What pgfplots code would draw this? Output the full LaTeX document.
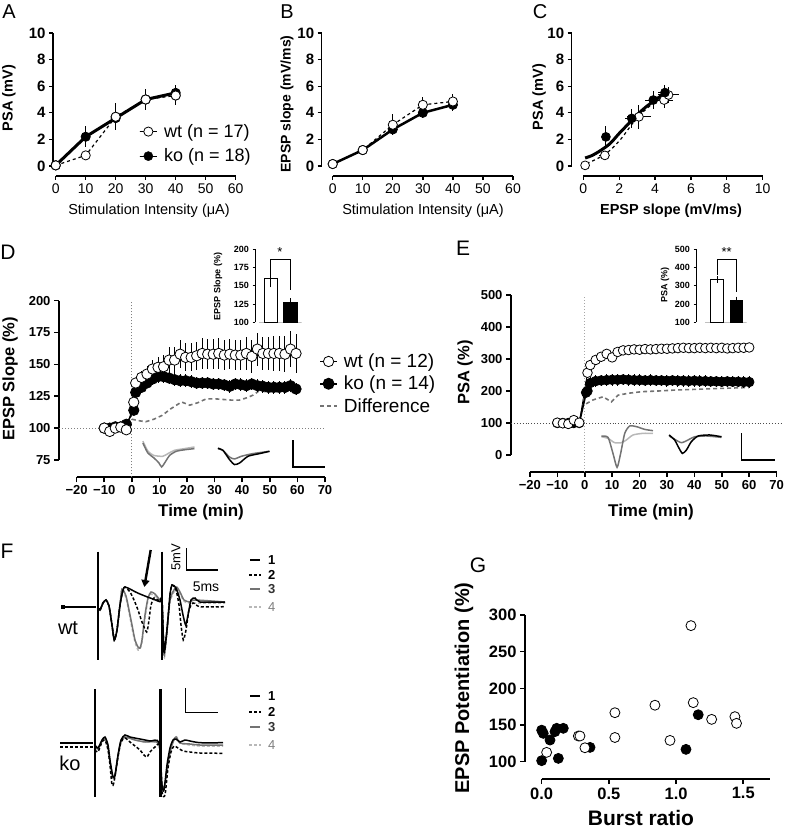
\documentclass[border=0pt]{standalone}
\usepackage{fontspec}
\setmainfont{Liberation Sans}
\usepackage{pgfplots}
\pgfplotsset{compat=1.18}
\usetikzlibrary{arrows.meta}
\newcommand{\fs}[1]{\fontsize{#1}{#1}\selectfont}
\definecolor{midgray}{gray}{0.45}
\definecolor{ltgray}{gray}{0.72}
\pgfplotsset{
  prism/.style={scale only axis, anchor=south west, clip=false,
    axis x line*=bottom, axis y line*=left, axis line style={draw=none},
    tick align=outside, major tick length=4pt,
    tick style={black, line width=1.3pt},
    /pgf/number format/assume math mode=true,
    tick label style={font=\bfseries\fs{12}}},
  topticks/.style={xticklabel style={font=\fs{14}}, yticklabel style={font=\bfseries\fs{15}}},
  openc/.style={black, mark=*, mark options={solid, fill=white, draw=black, line width=0.8pt}},
  fillc/.style={black, mark=*, mark options={solid, fill=black, draw=black, line width=0.8pt}},
  ebar/.style={/pgfplots/error bars/y dir=both, /pgfplots/error bars/y explicit,
    /pgfplots/error bars/error mark=none,
    /pgfplots/error bars/error bar style={line width=1pt, black, solid}},
  xebar/.style={/pgfplots/error bars/x dir=both, /pgfplots/error bars/x explicit},
  trace/.style={no markers, line width=1.5pt, smooth, tension=0.4},
  inset/.style={scale only axis, anchor=south west, axis y line*=left, axis x line=none,
    tick align=outside, major tick length=2.5pt, tick style={black, line width=0.8pt},
    y axis line style={line width=0.8pt},
    /pgf/number format/assume math mode=true, tick label style={font=\bfseries\fs{9}}},
}
\begin{document}
\begin{tikzpicture}
\path[use as bounding box] (0,0) rectangle (785pt,829pt);

% ---------- A ----------
\begin{axis}[prism, topticks, at={(53pt,653pt)}, width=182.7pt, height=143pt,
  xmin=-0.9, xmax=60, ymin=-0.75, ymax=10, xtick={0,10,...,60}, ytick={0,2,...,10},
  legend style={at={(axis cs:27.9,3.3)}, anchor=north west, draw=none, fill=none,
    font=\fs{18}, inner sep=0pt, row sep=6pt, column sep=5pt}, legend cell align=left,
  legend image code/.code={\path (0cm,0cm) rectangle (0.6cm,0cm); \draw[#1] plot coordinates {(0.3cm,0cm)};}]
\draw[line width=1.5pt] (axis cs:0,-0.75) -- (axis cs:60,-0.75);
\draw[line width=1.5pt] (axis cs:-0.9,0) -- (axis cs:-0.9,10);
\addplot[openc, line width=1.2pt, dashed, mark size=4.6pt, ebar, forget plot] coordinates {
  (0,0.05) +- (0,0) (10,0.8) +- (0,0.3) (20,3.7) +- (0,1.0) (30,5.0) +- (0,0.8) (40,5.3) +- (0,0.7)};
\addplot[fillc, line width=3pt, mark size=4.6pt, ebar, forget plot] coordinates {
  (0,0.05) +- (0,0) (10,2.2) +- (0,0.8) (20,3.6) +- (0,0.6) (30,5.0) +- (0,0.5) (40,5.5) +- (0,0.6)};
\addplot[openc, only marks, mark size=4.6pt, forget plot] coordinates {(0,0.05) (20,3.7) (30,5.0) (40,5.3)};
\addlegendimage{only marks, mark=*, mark options={fill=white, draw=black, line width=0.8pt}, mark size=4.6pt}
\addlegendentry{wt (n = 17)}
\addlegendimage{only marks, mark=*, mark options={fill=black}, mark size=4.6pt}
\addlegendentry{ko (n = 18)}
\end{axis}

% ---------- B ----------
\begin{axis}[prism, topticks, at={(321.7pt,653pt)}, width=191.3pt, height=143pt,
  xmin=-3.66, xmax=60, ymin=-0.75, ymax=10, xtick={0,10,...,60}, ytick={0,2,...,10}]
\draw[line width=1.5pt] (axis cs:0,-0.75) -- (axis cs:60,-0.75);
\draw[line width=1.5pt] (axis cs:-3.66,0) -- (axis cs:-3.66,10);
\addplot[fillc, line width=2.5pt, mark size=4.6pt, ebar] coordinates {
  (0,0.15) +- (0,0) (10,1.2) +- (0,0.2) (20,2.75) +- (0,0.4) (30,4.0) +- (0,0.4) (40,4.6) +- (0,0.5)};
\addplot[openc, line width=1.2pt, dashed, mark size=4.6pt, ebar] coordinates {
  (0,0.15) +- (0,0) (10,1.2) +- (0,0.2) (20,3.1) +- (0,0.8) (30,4.6) +- (0,0.6) (40,4.85) +- (0,0.6)};
\end{axis}

% ---------- C ----------
\begin{axis}[prism, topticks, at={(571.7pt,653pt)}, width=191pt, height=143pt,
  xmin=-0.647, xmax=10, ymin=-0.75, ymax=10, xtick={0,2,...,10}, ytick={0,2,...,10}]
\draw[line width=1.5pt] (axis cs:0,-0.75) -- (axis cs:10,-0.75);
\draw[line width=1.5pt] (axis cs:-0.647,0) -- (axis cs:-0.647,10);
\addplot[black, line width=1.2pt, dashed, smooth, no markers] coordinates {
  (0.19,0.18) (1.21,0.88) (2.04,1.94) (2.97,3.58) (3.9,4.71) (4.83,5.39)};
\addplot[black, line width=3pt, smooth, no markers] coordinates {
  (0.1,0.6) (0.5,0.8) (1,1.2) (1.5,1.7) (2,2.45) (2.5,3.15) (3,3.85) (3.5,4.45) (4,4.95) (4.65,5.6)};
\addplot[openc, only marks, mark size=4.4pt, ebar, xebar] coordinates {
  (0.1,0.05) +- (0.05,0.05) (1.2,0.8) +- (0.3,0.3) (3.1,3.7) +- (0.65,0.9) (4.5,4.96) +- (0.5,0.6) (4.75,5.34) +- (0.6,0.6)};
\addplot[fillc, only marks, mark size=4.4pt, ebar, xebar] coordinates {
  (1.26,2.19) +- (0.15,0.8) (2.7,3.58) +- (0.35,0.7) (3.9,4.96) +- (0.45,0.7) (4.55,5.52) +- (0.4,0.6)};
\end{axis}

% ---------- D ----------
\begin{axis}[prism, at={(59pt,351.7pt)}, width=271.5pt, height=176.6pt,
  xmin=-26.4, xmax=72, ymin=61.4, ymax=200,
  xtick={-20,-10,...,70}, xticklabels={−20,−10,0,10,20,30,40,50,60,70},
  ytick={75,100,...,200}, tick label style={font=\bfseries\fs{13}},
  tick style={line width=1.6pt}, major tick length=5pt,
  legend style={at={(axis cs:67.85,160)}, anchor=north west, draw=none, fill=none,
    font=\fs{19}, inner sep=0pt, row sep=3pt, column sep=4pt}, legend cell align=left]
\draw[line width=2pt] (axis cs:-20,61.4) -- (axis cs:70,61.4);
\draw[line width=2pt] (axis cs:-26.4,75) -- (axis cs:-26.4,200);
\draw[gray, dotted, line width=1pt] (axis cs:-26.4,100) -- (axis cs:70,100);
\draw[gray, dotted, line width=1pt] (axis cs:0,61.4) -- (axis cs:0,200);
\addplot[trace, ltgray, forget plot] coordinates {(4,89.8) (5.8,82) (7.9,78.6) (11.2,77.9) (13.1,80) (15.5,82.6) (19.1,83.9) (22.7,85.2)};
\addplot[trace, midgray, forget plot] coordinates {(4,88.3) (5.8,80.5) (7.9,76.8) (9.8,72.7) (10.8,69.5) (11.9,72.7) (13.7,78.6) (16.1,81.8) (19.1,83) (22.7,83.9)};
\addplot[trace, midgray, forget plot] coordinates {(31.2,84.4) (33,82.6) (35.4,77.3) (37.2,75.8) (39.7,77.9) (43.9,80) (49.9,81.8)};
\addplot[trace, black, forget plot] coordinates {(31.2,83.9) (33,82.6) (35.4,75.3) (37.2,71.4) (39.1,72.7) (42.1,77.9) (46.3,80) (49.9,81.8)};
\draw[line width=1.2pt] (axis cs:58.4,90.4) -- (axis cs:58.4,69.5) -- (axis cs:69.9,69.5);
\addplot[midgray, line width=1.6pt, dash pattern=on 4pt off 3pt, no markers, forget plot] coordinates {
  (0,107) (2,106) (5,105) (8,107) (11,110) (14,115) (18,120.5) (21,118) (24,120) (27,123) (30,123) (33,122.5)
  (36,122) (39,122) (42,124) (44,126) (46,129) (50,128.5) (54,128.5) (58,129) (60,130)};
\addplot[fillc, line width=1.5pt, mark size=5.2pt, ebar, forget plot] coordinates {
  (-10,100) +- (0,2) (-8,100) +- (0,2) (-6,101) +- (0,2) (-4,101) +- (0,2) (-2,103) +- (0,2)
  (0.7,114) +- (0,3) (1.4,128) +- (0,4) (3.5,132) +- (0,4) (5.5,135.4) +- (0,4) (7.5,138.5) +- (0,5)
  (9.5,140.4) +- (0,5) (11.5,140.4) +- (0,5) (13.5,139.3) +- (0,5) (15.5,138) +- (0,5) (17.5,137.2) +- (0,5)
  (19.5,137.2) +- (0,5) (21.5,136.5) +- (0,5) (23.5,135.4) +- (0,5) (25.5,135.4) +- (0,5) (27.5,135.4) +- (0,5)
  (29.5,134.6) +- (0,5) (31.5,134.6) +- (0,5) (33.5,133.9) +- (0,5) (35.5,132.8) +- (0,5) (37.5,134.6) +- (0,5)
  (39.5,134.1) +- (0,5) (41.5,133.3) +- (0,5) (43.5,134.6) +- (0,5) (45.5,133.3) +- (0,5) (47.5,132.8) +- (0,5)
  (49.5,132) +- (0,5) (51.5,132) +- (0,5) (53.5,132) +- (0,5) (55.5,132) +- (0,5) (57.5,133.3) +- (0,5) (59.5,130.7) +- (0,5)};
\addplot[openc, line width=0.8pt, mark size=5.2pt, ebar, forget plot] coordinates {
  (-10,100) +- (0,2) (-8,97.4) +- (0,2) (-6,100) +- (0,2) (-4,100.8) +- (0,2) (-2,98.7) +- (0,2)
  (0.7,120.3) +- (0,3) (1.4,135.4) +- (0,4) (3.5,139.8) +- (0,5) (5.5,142.4) +- (0,6) (7.5,146.4) +- (0,7)
  (9.5,147.7) +- (0,8) (11.5,148.2) +- (0,9) (13.5,153.4) +- (0,10) (15.5,153.4) +- (0,10) (17.5,158) +- (0,11)
  (19.5,155.5) +- (0,11) (21.5,155.5) +- (0,11) (23.5,156.8) +- (0,11) (25.5,158.6) +- (0,12) (27.5,158) +- (0,12)
  (29.5,158) +- (0,12) (31.5,158.6) +- (0,12) (33.5,157.3) +- (0,12) (35.5,158) +- (0,12) (37.5,157.3) +- (0,12)
  (39.5,157.3) +- (0,12) (41.5,158.6) +- (0,13) (43.5,156.3) +- (0,13) (45.5,162) +- (0,13) (47.5,158.6) +- (0,13)
  (49.5,158.6) +- (0,13) (51.5,158.6) +- (0,14) (53.5,158.6) +- (0,14) (55.5,158) +- (0,14) (57.5,162) +- (0,14) (59.5,158.6) +- (0,15)};
\addlegendimage{black, line width=1pt, mark=*, mark options={fill=white, draw=black, line width=0.8pt}, mark size=5.2pt}
\addlegendentry{wt (n = 12)}
\addlegendimage{black, line width=1.5pt, mark=*, mark options={fill=black}, mark size=5.2pt}
\addlegendentry{ko (n = 14)}
\addlegendimage{midgray, line width=1.6pt, dash pattern=on 4pt off 3pt}
\addlegendentry{Difference}
\end{axis}

% D inset
\begin{axis}[inset, at={(255pt,506.7pt)}, width=46.5pt, height=73.3pt,
  xmin=0.17, xmax=2.6, ymin=100, ymax=200, ytick={100,125,...,200}]
\draw[gray!50, line width=1pt] (axis cs:0.4,100) -- (axis cs:2.6,100);
\addplot[ybar, bar width=13.7pt, bar shift=0pt, draw=black, fill=white, line width=0.8pt, ebar] coordinates {(1,160) +- (0,12.5)};
\addplot[ybar, bar width=13.7pt, bar shift=0pt, draw=black, fill=black, ebar] coordinates {(2,128) +- (0,5)};
\draw[line width=1pt] (axis cs:1,172.5) -- (axis cs:1,186) -- (axis cs:2,186) -- (axis cs:2,144);
\end{axis}

% ---------- E ----------
\begin{axis}[prism, at={(511pt,357.3pt)}, width=271.1pt, height=176.7pt,
  xmin=-26.9, xmax=72, ymin=-52.2, ymax=500,
  xtick={-20,-10,...,70}, xticklabels={−20,−10,0,10,20,30,40,50,60,70},
  ytick={0,100,...,500}, tick label style={font=\bfseries\fs{13}},
  tick style={line width=1.6pt}, major tick length=5pt]
\draw[line width=2pt] (axis cs:-20,-52.2) -- (axis cs:70,-52.2);
\draw[line width=2pt] (axis cs:-26.9,0) -- (axis cs:-26.9,500);
\draw[black!70, dotted, line width=0.9pt] (axis cs:-26.9,100) -- (axis cs:72.5,100);
\draw[gray!70, dotted, line width=1pt] (axis cs:0,-52.2) -- (axis cs:0,500);
\addplot[trace, ltgray] coordinates {(6.1,57) (8.5,52) (10.9,38.5) (13.4,38.5) (15.2,47) (17.6,62.5) (21.3,67.7) (24.9,67.7)};
\addplot[trace, midgray] coordinates {(6.1,59) (8.5,55) (10.3,5) (11.8,-38.5) (13.1,5) (14.6,67.7) (16.4,90.6) (18.9,88.5) (21.9,80) (24.9,76)};
\addplot[trace, midgray] coordinates {(30.8,59.4) (32.8,49) (35.3,38.5) (37.7,47) (40.1,57) (44.4,59.4) (49.9,55)};
\addplot[trace, black] coordinates {(30.8,62.5) (32.8,47) (34.1,26) (35.6,5) (37.1,15.6) (38.9,41.7) (41.4,59.4) (45.6,62.5) (49.9,57)};
\draw[line width=1.2pt] (axis cs:57.2,67.7) -- (axis cs:57.2,-15.6) -- (axis cs:69.3,-15.6);
\addplot[midgray, line width=1.6pt, dash pattern=on 4pt off 3pt, no markers] coordinates {
  (0.5,160) (3,172) (6.7,182) (9.7,166) (12.2,187) (16,193) (21,198) (27,200) (33,203) (40,205) (46,207) (53,209) (60,211)};
\addplot[fillc, line width=1.8pt, mark size=4.8pt, ebar] coordinates {
  (-10,100) +- (0,5) (-8,100) +- (0,5) (-6,100) +- (0,5) (-4,100) +- (0,5) (-2,100) +- (0,5)
  (0.5,195) +- (0,10) (1,200) +- (0,12) (2,225) +- (0,18) (4,231) +- (0,18) (6,233) +- (0,18) (8,234) +- (0,18)
  (10,235) +- (0,18) (12,235) +- (0,18) (14,236) +- (0,18) (16,235) +- (0,18) (18,234) +- (0,18) (20,234) +- (0,18)
  (22,233) +- (0,18) (24,234) +- (0,18) (26,233) +- (0,18) (28,233) +- (0,18) (30,232) +- (0,18) (32,233) +- (0,18)
  (34,232) +- (0,18) (36,232) +- (0,18) (38,231) +- (0,18) (40,232) +- (0,18) (42,231) +- (0,18) (44,231) +- (0,18)
  (46,230) +- (0,18) (48,230) +- (0,18) (50,229) +- (0,18) (52,230) +- (0,18) (54,229) +- (0,18) (56,229) +- (0,18)
  (58,228) +- (0,18) (60,228) +- (0,18)};
\addplot[openc, line width=0.8pt, mark size=4.8pt, ebar] coordinates {
  (-10,101) +- (0,5) (-8,99) +- (0,5) (-6,97) +- (0,5) (-4,109) +- (0,5) (-2,101) +- (0,5)
  (1,257) +- (0,8) (2,281) +- (0,8) (4,297) +- (0,8) (6,307) +- (0,8) (8,316) +- (0,8) (10,305) +- (0,8)
  (12,322) +- (0,9) (14,327) +- (0,9) (16,328) +- (0,9) (18,330) +- (0,9) (20,329) +- (0,9) (22,331) +- (0,9)
  (24,330) +- (0,9) (26,331) +- (0,9) (28,332) +- (0,9) (30,332) +- (0,9) (32,333) +- (0,9) (34,334) +- (0,9)
  (36,335) +- (0,9) (38,334) +- (0,9) (40,334) +- (0,9) (42,335) +- (0,9) (44,334) +- (0,9) (46,335) +- (0,9)
  (48,334) +- (0,9) (50,335) +- (0,9) (52,333) +- (0,9) (54,334) +- (0,9) (56,335) +- (0,9) (58,335) +- (0,9) (60,336) +- (0,9)};
\end{axis}

% E inset
\begin{axis}[inset, at={(696pt,506.7pt)}, width=50.6pt, height=73pt,
  xmin=-0.085, xmax=2.53, ymin=100, ymax=500, ytick={100,200,...,500}]
\draw[gray!50, line width=1pt] (axis cs:0.4,100) -- (axis cs:2.53,100);
\addplot[ybar, bar width=12.6pt, bar shift=0pt, draw=black, fill=white, line width=0.8pt, ebar] coordinates {(1,335) +- (0,18)};
\addplot[ybar, bar width=12.6pt, bar shift=0pt, draw=black, fill=black, ebar] coordinates {(2,220) +- (0,20)};
\draw[line width=1pt] (axis cs:1,360) -- (axis cs:1,446) -- (axis cs:2,446) -- (axis cs:2,268);
\end{axis}

% ---------- G ----------
\begin{axis}[prism, at={(525pt,50pt)}, width=245.1pt, height=164pt,
  xmin=-0.124, xmax=1.7, ymin=76.4, ymax=300,
  xtick={0,0.5,1,1.5}, xticklabels={0.0,0.5,1.0,1.5}, ytick={100,150,...,300},
  tick label style={font=\bfseries\fs{16.5}}, major tick length=5pt, tick style={line width=1.6pt}]
\draw[line width=1.8pt] (axis cs:0,76.4) -- (axis cs:1.7,76.4);
\draw[line width=1.8pt] (axis cs:-0.124,100) -- (axis cs:-0.124,300);
\addplot[fillc, only marks, mark size=5pt] coordinates {
  (0,101.4) (0,143) (0.012,138.6) (0.062,129.5) (0.099,141) (0.112,145.5) (0.124,104.5) (0.161,145.5)
  (0.36,119.5) (1.074,116.8) (1.165,164)};
\addplot[openc, only marks, mark size=5pt] coordinates {
  (0.037,112.7) (0.273,135) (0.285,135) (0.322,119) (0.545,166.8) (0.545,133) (0.843,177) (0.955,129)
  (1.111,285.5) (1.128,180.5) (1.265,157.7) (1.438,161.4) (1.45,152.3)};
\end{axis}

% ---------- overlay: F traces and all labels, in picture pixels ----------
\begin{axis}[scale only axis, anchor=south west, at={(0pt,0pt)}, width=785pt, height=829pt,
  xmin=0, xmax=785, ymin=0, ymax=829, y dir=reverse, hide axis, clip=false]
% F wt
\addplot[black, line width=2pt, no markers] coordinates {(61.7,606.7) (96,606.7)};
\addplot[black, only marks, mark=square*, mark size=1.4pt] coordinates {(63,606.7)};
\addplot[trace, ltgray, dash pattern=on 3pt off 2pt] coordinates {
  (97.7,607) (100,610) (103,603) (106,600) (109,606) (112,625) (114.3,640) (117,630) (120,605) (122,589)
  (126,598) (129,612) (132,628) (135,642) (138,650) (140,649) (142,642) (145,618) (148,600) (151,594) (155,596) (160,600)
  (162,600) (164,657) (166,642) (170,602) (176,589) (180,594) (184,601) (190,603) (225,603)};
\addplot[trace, midgray] coordinates {
  (97.7,607) (100,610) (103,603) (106,600) (109,606) (112,625) (114.3,640) (117,630) (120,605) (122,589)
  (126,596) (129,610) (132,625) (135,640) (138,647) (140,648) (142,640) (145,615) (148,598) (151,592) (155,594) (160,600)
  (162,600) (164,655) (166,640) (170,600) (176,587) (180,592) (184,600) (190,602) (195,600) (225,602)};
\addplot[trace, black, dash pattern=on 3pt off 2pt] coordinates {
  (97.7,607) (100,610) (103,603) (106,600) (109,606) (112,625) (114.3,640) (117,630) (120,605) (123,590) (125,587)
  (130,592) (134,600) (138,610) (142,622) (146.7,632) (149,620) (151,605) (154,598) (158,600) (160,601)
  (162,600) (164,652) (167,630) (170,595) (172,585) (176,590) (179,605) (181,625) (183.3,640) (186,630) (189,610) (193,603) (200,606.7) (225,606.7)};
\addplot[trace, black] coordinates {
  (97.7,607) (100,610) (103,603) (106,600) (109,606) (112,625) (114.3,640) (117,630) (120,605) (123,590) (125,587)
  (130,589) (135,591.7) (140,594) (146.7,596.7) (153,599) (160,601.7)
  (162,600) (164,650) (167,630) (170,595) (172,585) (176,588) (180,600) (183,615) (185.7,625) (188,615) (191,600) (195,598) (200,602) (225,602)};
\addplot[black, line width=1.8pt, no markers] coordinates {(97.7,551.7) (97.7,660)};
\addplot[black, line width=1.8pt, no markers] coordinates {(161.7,551.7) (161.7,660)};
\draw[-{Triangle[length=7pt,width=8pt]}, line width=2.4pt] (axis cs:150.7,550) -- (axis cs:144.3,587);
\draw[line width=1.2pt] (axis cs:186.7,548.3) -- (axis cs:186.7,570) -- (axis cs:218.3,570);
\node[rotate=90, font=\fs{13}] at (axis cs:176,557) {5mV};
\node[font=\fs{14}] at (axis cs:206,587) {5ms};
% F ko
\addplot[black, line width=2pt, no markers] coordinates {(60,742.7) (93.3,742.7)};
\addplot[black, line width=2pt, dash pattern=on 3pt off 2pt, no markers] coordinates {(60,746.5) (93.3,746.5)};
\addplot[trace, ltgray, dash pattern=on 3pt off 2pt] coordinates {
  (95,747) (98,749) (102,741) (105,738) (108,747) (110,762) (113,778) (115,776) (118,756) (121,741) (125,737)
  (135,740) (145,742) (159,744) (161,782) (164,789) (167,771) (170,753) (173,742) (176,736) (180,743) (190,745) (200,746) (223,746)};
\addplot[trace, midgray] coordinates {
  (95,747) (98,749) (102,741) (105,738) (108,747) (110,762) (113,778) (115,776) (118,756) (121,741) (125,737)
  (135,740) (145,742) (159,744) (161,780) (164,788) (167,770) (170,752) (173,742) (176,737) (180,743) (190,744) (200,745) (223,745)};
\addplot[trace, black, dash pattern=on 3pt off 2pt] coordinates {
  (95,750) (98,752) (102,742) (105,740) (108,750) (110,765) (112,785) (114,782) (118,757) (121,742) (125,738)
  (130,742) (135,746) (140,750) (144,755) (147,757) (150,752) (155,747) (160,746)
  (162,792) (165,795) (168,768) (171,752) (174,746) (178,748) (183,751) (190,752) (200,753) (223,753.3)};
\addplot[trace, black] coordinates {
  (95,745) (98,748) (102,740) (105,737) (108,745) (110,760) (113,777) (115,775) (118,755) (121,740) (125,735)
  (130,737) (140,739) (150,741) (159,742.7) (162,785) (164,790) (167,765) (170,748) (173,740) (176,739) (180,742)
  (185,740) (190,741) (200,742.7) (223,742.7)};
\addplot[black, line width=2pt, no markers] coordinates {(95,689.3) (95,796.7)};
\addplot[black, line width=3pt, no markers] coordinates {(160,689.3) (160,796.7)};
\draw[line width=1.2pt] (axis cs:185.7,688.3) -- (axis cs:185.7,712.7) -- (axis cs:217.7,712.7);
% F legends
\addplot[black, line width=2pt] coordinates {(250,560) (260,560)};
\addplot[black, line width=2pt, dash pattern=on 3pt off 2pt] coordinates {(249,575) (261,575)};
\addplot[midgray, line width=2pt] coordinates {(250,589.3) (260,589.3)};
\addplot[ltgray, line width=2pt, dash pattern=on 3pt off 2pt] coordinates {(249,606.7) (261,606.7)};
\addplot[black, line width=2pt] coordinates {(250,696) (260,696)};
\addplot[black, line width=2pt, dash pattern=on 3pt off 2pt] coordinates {(249,711.7) (261,711.7)};
\addplot[midgray, line width=2pt] coordinates {(250,727.3) (260,727.3)};
\addplot[ltgray, line width=2pt, dash pattern=on 3pt off 2pt] coordinates {(249,745) (261,745)};
\node[font=\bfseries\fs{13}] at (axis cs:271.7,560) {1};
\node[font=\bfseries\fs{13}] at (axis cs:271.7,575) {2};
\node[font=\bfseries\fs{13}, text=black!80] at (axis cs:271.7,589.3) {3};
\node[font=\fs{13}, text=gray] at (axis cs:271.7,606.7) {4};
\node[font=\bfseries\fs{13}] at (axis cs:271.7,696) {1};
\node[font=\bfseries\fs{13}] at (axis cs:271.7,711.7) {2};
\node[font=\bfseries\fs{13}, text=black!80] at (axis cs:271.7,727.3) {3};
\node[font=\fs{13}, text=gray] at (axis cs:271.7,745) {4};
\node[font=\fs{20}] at (axis cs:68,628) {wt};
\node[font=\fs{20}] at (axis cs:70,763) {ko};
% panel letters
\node[font=\fs{20}] at (axis cs:9,12) {A};
\node[font=\fs{20}] at (axis cs:287,12) {B};
\node[font=\fs{20}] at (axis cs:540,12) {C};
\node[font=\fs{21}] at (axis cs:8,252) {D};
\node[font=\fs{21}] at (axis cs:463,248) {E};
\node[font=\fs{21}] at (axis cs:7,551) {F};
\node[font=\fs{21}] at (axis cs:478,565) {G};
% axis titles
\node[rotate=90, font=\bfseries\fs{14.5}] at (axis cs:9,98) {PSA (mV)};
\node[rotate=90, font=\bfseries\fs{14}] at (axis cs:287,104) {EPSP slope (mV/ms)};
\node[rotate=90, font=\bfseries\fs{14.5}] at (axis cs:539,97) {PSA (mV)};
\node[font=\fs{14.5}] at (axis cs:149,211) {Stimulation Intensity (μA)};
\node[font=\fs{14.5}] at (axis cs:423,211) {Stimulation Intensity (μA)};
\node[font=\bfseries\fs{14.5}] at (axis cs:671,211) {EPSP slope (mV/ms)};
\node[rotate=90, font=\bfseries\fs{16.5}] at (axis cs:10,379) {EPSP Slope (\%)};
\node[rotate=90, font=\bfseries\fs{16.5}] at (axis cs:465,372.5) {PSA (\%)};
\node[font=\bfseries\fs{17}] at (axis cs:201,512) {Time (min)};
\node[font=\bfseries\fs{17}] at (axis cs:651,512) {Time (min)};
\node[rotate=90, font=\bfseries\fs{9}] at (axis cs:218,286.5) {EPSP Slope (\%)};
\node[rotate=90, font=\bfseries\fs{9}] at (axis cs:665,285) {PSA (\%)};
\node[font=\fs{13}] at (axis cs:280,252) {*};
\node[font=\fs{13}] at (axis cs:726.7,252) {**};
\node[rotate=90, font=\bfseries\fs{20}] at (axis cs:464,688) {EPSP Potentiation (\%)};
\node[font=\bfseries\fs{21}] at (axis cs:641,818) {Burst ratio};
\end{axis}
\end{tikzpicture}
\end{document}
